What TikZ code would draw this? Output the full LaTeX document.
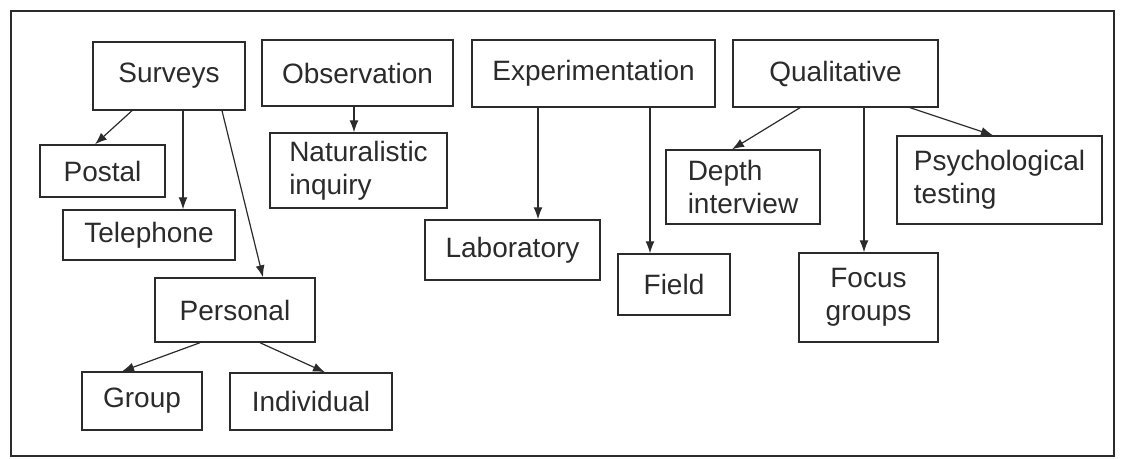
\documentclass[tikz,border=0pt]{standalone}
\usepackage{fontspec}
\setmainfont{Liberation Sans}
\usetikzlibrary{arrows.meta}
\definecolor{ink}{HTML}{2B2B2B}
\begin{document}
\begin{tikzpicture}[x=1pt,y=-1pt,
  box/.style={draw=ink,line width=1.4pt,text=ink,inner sep=0pt,
    font=\fontsize{28}{33}\selectfont,align=center},
  lbox/.style={box,align=left},
  arr/.style={draw=ink,line width=1.2pt,-{Latex[length=12pt,width=9pt]}}]
\useasboundingbox (0,0) rectangle (1123,458);
\draw[ink,line width=1.8pt] (11,11) rectangle (1114,456);
% top row
\node[box,minimum width=152pt,minimum height=68pt] (surveys) at (169,76) {Surveys};
\node[box,minimum width=191pt,minimum height=66pt] (obs) at (357.5,73) {Observation};
\node[box,minimum width=243pt,minimum height=67pt] (exp) at (593.5,73.5) {Experimentation};
\node[box,minimum width=205pt,minimum height=67pt] (qual) at (835.5,73.5) {Qualitative};
% children
\node[box,minimum width=125pt,minimum height=52pt] (postal) at (102.5,171) {Postal};
\node[box,minimum width=172pt,minimum height=50pt] (tel) at (149,235) {Telephone};
\node[box,minimum width=160pt,minimum height=64pt] (pers) at (235,310) {Personal};
\node[box,minimum width=120pt,minimum height=58pt] (group) at (142,401) {Group};
\node[box,minimum width=162pt,minimum height=57pt] (indiv) at (311,401.5) {Individual};
\node[lbox,minimum width=177pt,minimum height=75pt] (nat) at (358.5,170.5) {Naturalistic\\inquiry};
\node[box,minimum width=175pt,minimum height=60pt] (lab) at (512.5,250) {Laboratory};
\node[box,minimum width=112pt,minimum height=61pt] (field) at (674,284.5) {Field};
\node[lbox,minimum width=154pt,minimum height=74pt] (depth) at (743,187) {Depth\\interview};
\node[box,minimum width=139pt,minimum height=89pt] (focus) at (868.5,297.5) {Focus\\groups};
\node[lbox,minimum width=205pt,minimum height=88pt] (psych) at (999.5,180) {Psychological\\testing};
% connectors
\draw[arr] ([xshift=-37pt]surveys.south) -- ([xshift=-7.5pt]postal.north);
\draw[arr] ([xshift=14pt]surveys.south) -- ([xshift=34pt]tel.north);
\draw[arr] ([xshift=53pt]surveys.south) -- ([xshift=28pt]pers.north);
\draw[arr] ([xshift=-35pt]pers.south) -- ([xshift=-20pt]group.north);
\draw[arr] ([xshift=25pt]pers.south) -- ([xshift=14pt]indiv.north);
\draw[arr] ([xshift=-3.5pt]obs.south) -- ([xshift=-4.5pt]nat.north);
\draw[arr] ([xshift=-55.5pt]exp.south) -- ([xshift=25.5pt]lab.north);
\draw[arr] ([xshift=56.5pt]exp.south) -- ([xshift=-24pt]field.north);
\draw[arr] ([xshift=-35.5pt]qual.south) -- ([xshift=-11pt]depth.north);
\draw[arr] ([xshift=28.5pt]qual.south) -- ([xshift=-4.5pt]focus.north);
\draw[arr] ([xshift=74.5pt]qual.south) -- ([xshift=-6.5pt]psych.north);
\end{tikzpicture}
\end{document}
